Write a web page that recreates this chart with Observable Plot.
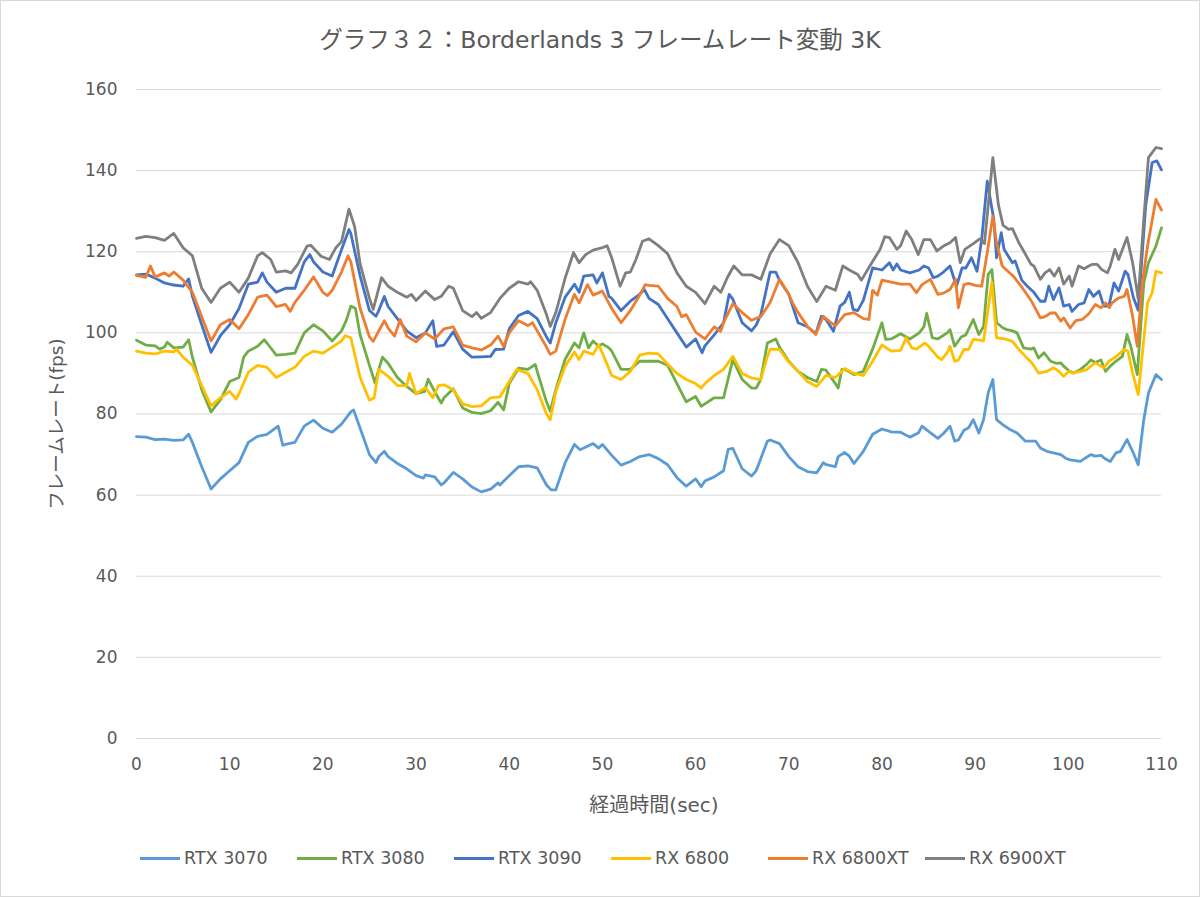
<!DOCTYPE html>
<html>
<head>
<meta charset="utf-8">
<script src="https://cdn.jsdelivr.net/npm/d3@7"></script>
<script src="https://cdn.jsdelivr.net/npm/@observablehq/plot@0.6"></script>
<style>
  html, body { margin: 0; padding: 0; background: #fff; }
  #wrap { position: relative; width: 1200px; height: 897px; overflow: hidden; font-family: "DejaVu Sans", "Noto Sans CJK JP", sans-serif; color: #595959; }
  #frame { position: absolute; left: 0; top: 0; width: 1198px; height: 895px; border: 1px solid #d9d9d9; pointer-events: none; }
  #chart { position: absolute; left: 0; top: 0; }
  #title { position: absolute; top: 21px; left: 0; width: 1200px; text-align: center; font-size: 23.5px; color: #595959; }
  #ylabel { position: absolute; left: 55px; top: 424px; transform: translate(-50%, -50%) rotate(-90deg); font-size: 18.5px; white-space: nowrap; }
  #xlabel { position: absolute; left: 654px; top: 803px; transform: translate(-50%, -50%); font-size: 20px; white-space: nowrap; }
  .leg { position: absolute; top: 848px; display: flex; align-items: center; font-size: 17.5px; white-space: nowrap; }
  .sw { display: inline-block; width: 40px; height: 0; border-top: 3px solid; margin-right: 4px; }
</style>
</head>
<body>
<div id="wrap">
  <div id="chart"></div>
  <div id="title"></div>
  <div id="ylabel"></div>
  <div id="xlabel"></div>
  <div id="legend"></div>
  <div id="frame"></div>
</div>
<script>
const titleText = "グラフ３２：Borderlands 3 フレームレート変動 3K";
const yTitle = "フレームレート(fps)";
const xTitle = "経過時間(sec)";
const seriesNames = ["RTX 3070", "RTX 3080", "RTX 3090", "RX 6800", "RX 6800XT", "RX 6900XT"];
const seriesColors = ["#5B9BD5", "#70AD47", "#4472C4", "#FFC000", "#ED7D31", "#7F7F7F"];
const xTicks = [0, 10, 20, 30, 40, 50, 60, 70, 80, 90, 100, 110];
const yTicks = [0, 20, 40, 60, 80, 100, 120, 140, 160];

const rtx3070 = [[0,74.4],[1,74.3],[2,73.7],[3,73.8],[4,73.5],[5,73.6],[5.6,75],[6,73],[7,67],[8,61.5],[9,64],[10,66],[11,68],[12,73],[13,74.5],[14,75],[15.2,77],[15.7,72.3],[16,72.5],[17,73],[18,77],[19,78.5],[20,76.5],[21,75.5],[22,77.5],[23,80.5],[23.3,81],[24,76.5],[25,70],[25.7,68],[26,69.5],[26.6,70.8],[27,69.5],[28,67.8],[29,66.5],[30,64.8],[30.8,64.2],[31,65],[32,64.5],[32.7,62.5],[33,63],[34,65.6],[35,64],[36,62],[37,60.8],[38,61.5],[38.8,63],[39,62.5],[40,64.8],[41,67],[42,67.2],[43,66.7],[44,62.5],[44.5,61.3],[45,61.3],[46,68],[47,72.5],[47.6,71.2],[48,71.6],[49,72.7],[49.6,71.6],[50,72.5],[51,69.8],[52,67.4],[53,68.3],[54,69.5],[55,70],[56,69],[57,67.5],[58,64.3],[59,62.2],[60,64],[60.6,62.1],[61,63.5],[62,64.5],[63,66],[63.5,71.3],[64,71.5],[65,66.5],[66,64.7],[66.5,66],[67,69],[67.7,73.3],[68,73.6],[69,72.7],[70,69.5],[71,67],[72,65.8],[73,65.5],[73.7,68],[74,67.5],[75,67],[75.3,69.5],[76,70.5],[76.5,69.6],[77,67.8],[78,70.8],[79,75],[80,76.3],[81,75.6],[82,75.5],[83,74.3],[83.9,75.3],[84.3,77],[85,75.7],[86,74],[86.6,75.2],[87.3,77],[87.8,73.3],[88.2,73.6],[88.8,76],[89.3,76.6],[89.8,78.6],[90.4,75.3],[90.9,78.6],[91.4,85.2],[91.9,88.5],[92.3,78.6],[93,77.3],[93.8,76.1],[94.5,75.3],[95.4,73.3],[96.5,73.3],[97,71.6],[97.7,70.8],[98.4,70.4],[99.2,70],[99.7,69.1],[100.2,68.7],[101.3,68.3],[101.8,69.1],[102.4,70],[102.9,69.6],[103.5,69.8],[104,68.9],[104.5,68.3],[105.1,70.4],[105.6,70.8],[106.3,73.7],[106.9,70.8],[107.5,67.5],[108.1,78.6],[108.6,85.2],[109.4,89.7],[110,88.5]];

const rtx3080 = [[0,98.2],[1,97],[2,96.8],[2.5,96],[3,96.5],[3.3,97.7],[4,96.3],[5,96.5],[5.6,98.3],[6,94],[7,86],[8,80.5],[9,83.5],[10,88],[11,89],[11.5,94],[12,95.5],[13,96.7],[13.7,98.3],[14,97.5],[15,94.5],[16,94.7],[17,95],[18,100],[19,102],[20,100.5],[21,98],[22,100.5],[22.5,103],[23,106.6],[23.5,106],[24,99.5],[25,92],[25.6,87.7],[26,91],[26.4,94],[27,92.5],[28,89],[29,86.8],[30,85],[30.9,85.5],[31.3,88.6],[32,85.5],[32.7,82.7],[33,84],[34,86.2],[35,81.5],[36,80.4],[37,80.1],[38,80.8],[38.8,82.9],[39.4,81],[40,87.5],[41,91.3],[42,91],[42.8,92.2],[43,90.5],[44,83],[44.4,80.7],[45,86],[46,93.5],[47,97.5],[47.5,96.3],[48,100],[48.5,96.3],[49,98],[49.6,96.7],[50,97.3],[50.7,96.3],[51,95.5],[52,91],[53,91],[54,93],[55,93],[56,93],[57,92],[58,87.5],[59,83],[60,84.3],[60.6,81.9],[61,82.5],[62,84],[63,84],[64,93.4],[65,88.5],[66,86.4],[66.5,86.4],[67,88.5],[67.7,97.5],[68.6,98.5],[69,96.5],[70,93],[71,90.5],[72,89],[73,88],[73.5,91],[74,90.8],[75,87.5],[75.3,86.4],[75.7,91],[76,91],[77,89.7],[78,90.5],[79,96],[80,102.5],[80.4,98.4],[81,98.5],[82,99.8],[83,98.5],[84,100],[84.5,101.5],[84.8,104.8],[85.4,98.8],[86,98.5],[87,100],[87.3,100.8],[87.8,96.7],[88.5,99],[89,99.5],[89.8,103.3],[90.4,99.6],[90.9,101.5],[91.4,114.4],[91.8,115.6],[92.3,102.5],[93,101.2],[93.4,100.8],[94,100.5],[94.5,100],[95.2,96.3],[96,96],[96.3,96.3],[96.8,93.8],[97.4,95.1],[98.1,93],[98.7,92.5],[99.2,92.6],[99.5,91.8],[100.1,90.6],[100.6,90.1],[101.3,91],[102,92.3],[102.4,93.3],[102.9,92.7],[103.5,93.3],[104,90.5],[104.5,91.8],[105.1,93],[105.8,94.2],[106.3,99.6],[106.7,96.7],[107.4,89.7],[108.1,112.3],[108.6,117.3],[109.4,121.4],[110,125.9]];

const rtx3090 = [[0,114.3],[1,114.5],[2,113.5],[3,112.3],[4,111.8],[5,111.5],[5.6,113.3],[6,109],[7,102],[8,95.2],[9,99.3],[10,102],[11,106],[12,112],[13,112.5],[13.5,114.8],[14,112.5],[15,110],[16,111],[17,111],[18,117.5],[18.6,119.3],[19,117.5],[20,115],[21,114],[22,120.5],[22.8,125.5],[23,124.5],[24,114],[25,105.5],[25.7,104.1],[26,105.5],[26.6,109],[27,106.5],[28,103.5],[29,100.5],[30,98.8],[31,100],[31.8,103],[32.2,96.7],[33,97],[34,100.3],[35,96],[36,94],[37,94.1],[38,94.2],[38.5,95.9],[39.4,96],[40,101],[41,104.3],[42,105.3],[43,103.5],[44,99],[44.4,97.5],[45,102.5],[46,108.8],[47,112],[47.5,110],[48,114],[49,114.3],[49.4,112.3],[50,114.8],[50.7,109],[51,108.5],[52,105.5],[53,107.8],[54,109.5],[54.5,110.7],[55,108.5],[56,107],[57,103.5],[58,100],[59,96.5],[60,98.5],[60.7,95.1],[61,96.8],[62,99.5],[63,102.5],[63.6,109.5],[64,108.3],[65,102.5],[66,100.5],[66.5,101.9],[67,104.5],[68,115],[68.6,115],[69,113],[70,109.5],[71,102.5],[72,101.5],[72.9,99.8],[73.5,104.1],[74,103.3],[74.8,100.4],[75.5,106.6],[76,107.5],[76.5,110],[76.9,105.8],[77.4,105.5],[78,108],[79,116],[80,115.5],[80.8,117.3],[81.2,115.5],[81.6,117],[82,115.5],[83,114.8],[84,115.5],[84.5,116.5],[85,116],[85.5,113.6],[86,114],[86.6,115],[87.3,116.5],[88,111.5],[88.6,116],[89,116],[89.6,118.5],[90.2,115.2],[90.7,123],[91.3,137.4],[92,128],[92.3,118.5],[92.8,124.7],[93.1,120.6],[94,117.3],[94.3,117.7],[95,113],[95.6,111.5],[96.3,110],[97,107.8],[97.5,107.8],[97.9,111.5],[98.4,108.2],[99,111.1],[99.5,106.6],[100.1,107],[100.4,105.3],[101.1,107],[101.7,107.4],[102.2,110.7],[102.7,109],[103.3,110.3],[103.8,106.6],[104.35,106.6],[104.9,112.3],[105.4,110.3],[106.1,115.2],[106.4,114.4],[107,108.6],[107.5,105.6],[108.3,131.3],[109,142],[109.5,142.4],[110,140.2]];

const rx6800 = [[0,95.5],[1,95],[2,94.8],[3,95.5],[4,95.3],[4.3,96],[5,94],[6,92],[7,87],[8,82],[9,84],[10,85.6],[10.7,83.7],[11,85],[12,90.3],[13,92],[14,91.5],[15,89],[16,90.3],[17,91.5],[18,94.2],[19,95.5],[20,95],[21,96.5],[22,98],[22.4,99.3],[23,98.8],[24,89],[25,83.4],[25.5,84],[26,91],[27,89.3],[28,87],[29,87],[29.3,90],[30,85],[31,86.5],[31.8,84],[32.4,87],[33,87.2],[34,86],[35,82.5],[36,81.8],[37,82],[38,84],[39,84.2],[40,88],[40.8,91],[42,90],[43,86],[44,80],[44.4,78.6],[45,85.5],[46,91.8],[47,95.3],[47.5,93.4],[48,95.5],[49,94.7],[49.6,97.1],[50,95],[51,89.5],[52,88.5],[53,90.5],[54,94.5],[55,95],[56,94.8],[57,92.3],[58,90],[59,88.5],[60,87.5],[60.6,86.4],[61,87.5],[62,89.5],[63,91],[64,94.2],[65,90],[66,88.9],[67,88.5],[67.6,93.4],[68,96],[69,95.9],[70,92.8],[71,90.5],[72,88],[73,86.8],[74,89.5],[75,89],[76,91.2],[77,90],[78,89.5],[79,93],[80,97],[81,95.5],[82,95.7],[82.6,98.8],[83.2,96.3],[83.7,96],[84.6,97.5],[85,96.7],[86,94],[86.4,93.4],[87,95.1],[87.3,96.7],[87.8,93],[88.2,93.3],[88.8,95.9],[89.3,95.9],[89.8,98.4],[90.5,98.2],[90.9,98],[91.8,112.5],[92.3,98.8],[93,98.6],[93.4,98.4],[94,97.9],[94.7,95.9],[95.4,94.2],[96.1,92.6],[96.8,90.1],[97.7,90.5],[98.4,91.4],[99,90.5],[99.5,89.3],[100.1,90.6],[100.4,90.1],[101.3,90.5],[102,91],[102.4,91.8],[102.9,92.6],[103.5,91.8],[103.8,91.4],[104.35,93],[104.9,93.8],[105.4,94.7],[106,95.9],[106.4,95.5],[106.9,90.1],[107.5,84.8],[108.5,107.4],[109,109.9],[109.4,115.2],[110,114.8]];

const rx6800xt = [[0,114.2],[1,113.7],[1.5,116.5],[2,113.8],[3,114.8],[3.5,114],[4,115],[5,113],[6,110],[7,104],[8,98],[9,102],[10,103.3],[11,101],[12,104.5],[13,108.8],[14,109.3],[15,106.5],[16,107],[16.5,105.3],[17,107.5],[18,110.5],[19,113.8],[20,110],[20.5,109.2],[21,110.5],[22,115],[22.7,119],[23,117.5],[24,106],[25,99],[25.4,97.9],[26,100.5],[26.6,103],[27,101.2],[27.7,99.2],[28.3,103.3],[29,99.2],[30,97.8],[31,100],[32,98.5],[33,101],[34,101.5],[35,97],[36,96.3],[37,95.8],[38,97],[38.8,99.2],[39.4,96.7],[40,100],[41,103],[42,101.8],[42.5,102.5],[43,100.5],[44,96.5],[44.4,94.7],[45,95.5],[46,103.4],[47,109.5],[47.5,107.4],[48.4,111.9],[49,109.3],[50,110.3],[51,106],[52,102.5],[53,105.5],[54,109.3],[54.6,111.9],[55,111.7],[56,111.5],[57,108.5],[58,106.5],[58.5,104],[59,104.5],[60,100.2],[61,98.5],[62,101.5],[62.7,100.4],[63,102.5],[64,107.2],[65,105],[66,103.1],[67,104],[68,107.5],[69,113.2],[70,109.5],[70.5,107],[71,105],[72,101.6],[72.9,99.6],[73.7,104.1],[74,103.5],[75,101.7],[76,104.5],[77,105],[78,103.5],[78.6,103.3],[79,110.5],[79.5,109.3],[80,113],[81,112.5],[82,112],[83,112],[83.7,109.9],[84.3,111.9],[85.2,113.2],[86,109.5],[86.6,109.8],[87.3,110.7],[87.9,113.2],[88.2,106.2],[88.8,111.9],[89.3,112.2],[90,111.7],[90.7,111.5],[91.3,119.8],[91.9,128.8],[92.3,122.2],[92.9,116.5],[93.6,115],[94.1,114],[95,111.3],[96,108],[97,103.7],[97.5,104],[98.1,104.9],[98.6,104.9],[99.2,102.9],[99.5,103.7],[100.2,101.2],[100.8,103],[101.5,103.3],[102.2,104.7],[102.9,107],[103.5,106.2],[104,107.4],[104.4,106.2],[104.7,107.4],[105.4,108.6],[106,109],[106.3,110.7],[106.9,104.1],[107.4,96.7],[107.9,111.5],[108.5,121.4],[109.4,132.9],[110,130.3]];

const rx6900xt = [[0,123.3],[1,123.8],[2,123.5],[3,122.8],[4,124.5],[5,121],[6,119],[7,111],[8,107.5],[9,111],[10,112.5],[11,110],[12,113.5],[13,119],[13.5,119.8],[14.4,118.1],[15,115],[16,115.3],[16.6,114.8],[17.3,116.9],[18.3,121.4],[18.7,121.6],[19.8,118.9],[20.7,118.1],[21.4,121],[22,122.5],[22.8,130.5],[23.4,126.3],[24,117],[25,108.5],[25.4,105.8],[26.3,113.6],[27,111.5],[28,110],[29,108.8],[29.5,109.5],[30,108],[31,110.3],[32,108.2],[32.7,109],[33.5,111.5],[34,111],[35,105.5],[36,104],[36.5,105],[37,103.6],[38,105],[39,108.5],[40,111],[41,112.6],[42,112],[42.3,112.6],[43,110.5],[44,104.5],[44.4,101.6],[45,105],[46,113.5],[46.9,119.8],[47.5,117.3],[48.2,119.3],[49,120.4],[50,121],[50.5,121.5],[51,118.5],[51.9,111.5],[52.5,114.8],[53,115],[53.6,118.1],[54.3,122.6],[55,123.2],[56,121.5],[57,119.5],[58,114.8],[59,111.5],[60,110],[61,107.2],[62,111.5],[62.7,110],[63.4,113.6],[64.1,116.5],[65,114.3],[66,114.3],[67,113.2],[68,119.5],[69,123],[70,121.5],[71,117.3],[72,111.5],[73,107.7],[74,111.5],[75,110.5],[75.8,116.5],[76.5,115.5],[77.4,114.4],[77.8,113],[78.7,116.5],[79.8,120.6],[80.3,123.7],[80.8,123.5],[81.6,120.6],[82,121.5],[82.6,125.1],[83.2,123],[83.9,119.3],[84.5,123],[85.2,123],[85.9,120.2],[86.6,121.4],[87.3,122.2],[87.9,123.5],[88.4,117.3],[88.9,120.6],[89.8,122],[90.5,123.2],[91,122],[91.9,143.2],[92.5,131.5],[93,126.5],[93.6,125.5],[94,125.7],[94.7,122.2],[95.2,120.2],[96,116.9],[96.3,116.5],[97,113.2],[97.5,114.8],[98,115.6],[98.5,114],[99,116],[99.5,112],[100.1,114],[100.4,111.5],[101.1,116.5],[101.7,115.8],[102.2,116.5],[102.6,116.9],[103.1,116.9],[103.6,115.6],[104.2,114.8],[104.5,116.5],[105,120.6],[105.4,118.1],[106.3,123.5],[106.9,117.3],[107.5,108.4],[108.1,128],[108.6,143.2],[109.4,145.7],[110,145.4]];

const seriesData = [rtx3070, rtx3080, rtx3090, rx6800, rx6800xt, rx6900xt];

const rows = [];
seriesData.forEach((arr, i) => {
  arr.forEach(([t, v]) => rows.push({series: seriesNames[i], t, v}));
});

const chart = Plot.plot({
  width: 1200,
  height: 897,
  marginLeft: 136,
  marginRight: 39,
  marginTop: 89,
  marginBottom: 159,
  style: {fontFamily: "'DejaVu Sans', 'Noto Sans CJK JP', sans-serif", fontSize: "17px", color: "#595959", background: "transparent"},
  x: {domain: [0, 110], ticks: xTicks, tickSize: 0, tickPadding: 19, label: null},
  y: {domain: [0, 160], ticks: yTicks, tickSize: 0, tickPadding: 19, label: null},
  color: {domain: seriesNames, range: seriesColors},
  marks: [
    Plot.ruleY(yTicks, {stroke: "#d9d9d9", strokeWidth: 1}),
    Plot.axisX({ticks: xTicks, tickSize: 0, tickPadding: 19, fill: "#595959", fontSize: 17}),
    Plot.axisY({ticks: yTicks, tickSize: 0, tickPadding: 19, fill: "#595959", fontSize: 17}),
    Plot.line(rows, {x: "t", y: "v", z: "series", stroke: "series", strokeWidth: 2.8, strokeLinejoin: "round", strokeLinecap: "round"})
  ]
});
document.getElementById("chart").appendChild(chart);

document.getElementById("title").textContent = titleText;
document.getElementById("ylabel").textContent = yTitle;
document.getElementById("xlabel").textContent = xTitle;

const legend = document.getElementById("legend");
seriesNames.forEach((name, i) => {
  const item = document.createElement("div");
  item.className = "leg";
  item.style.left = (140 + i * 157) + "px";
  const sw = document.createElement("span");
  sw.className = "sw";
  sw.style.borderTopColor = seriesColors[i];
  const tx = document.createElement("span");
  tx.textContent = name;
  item.appendChild(sw);
  item.appendChild(tx);
  legend.appendChild(item);
});
</script>
</body>
</html>
